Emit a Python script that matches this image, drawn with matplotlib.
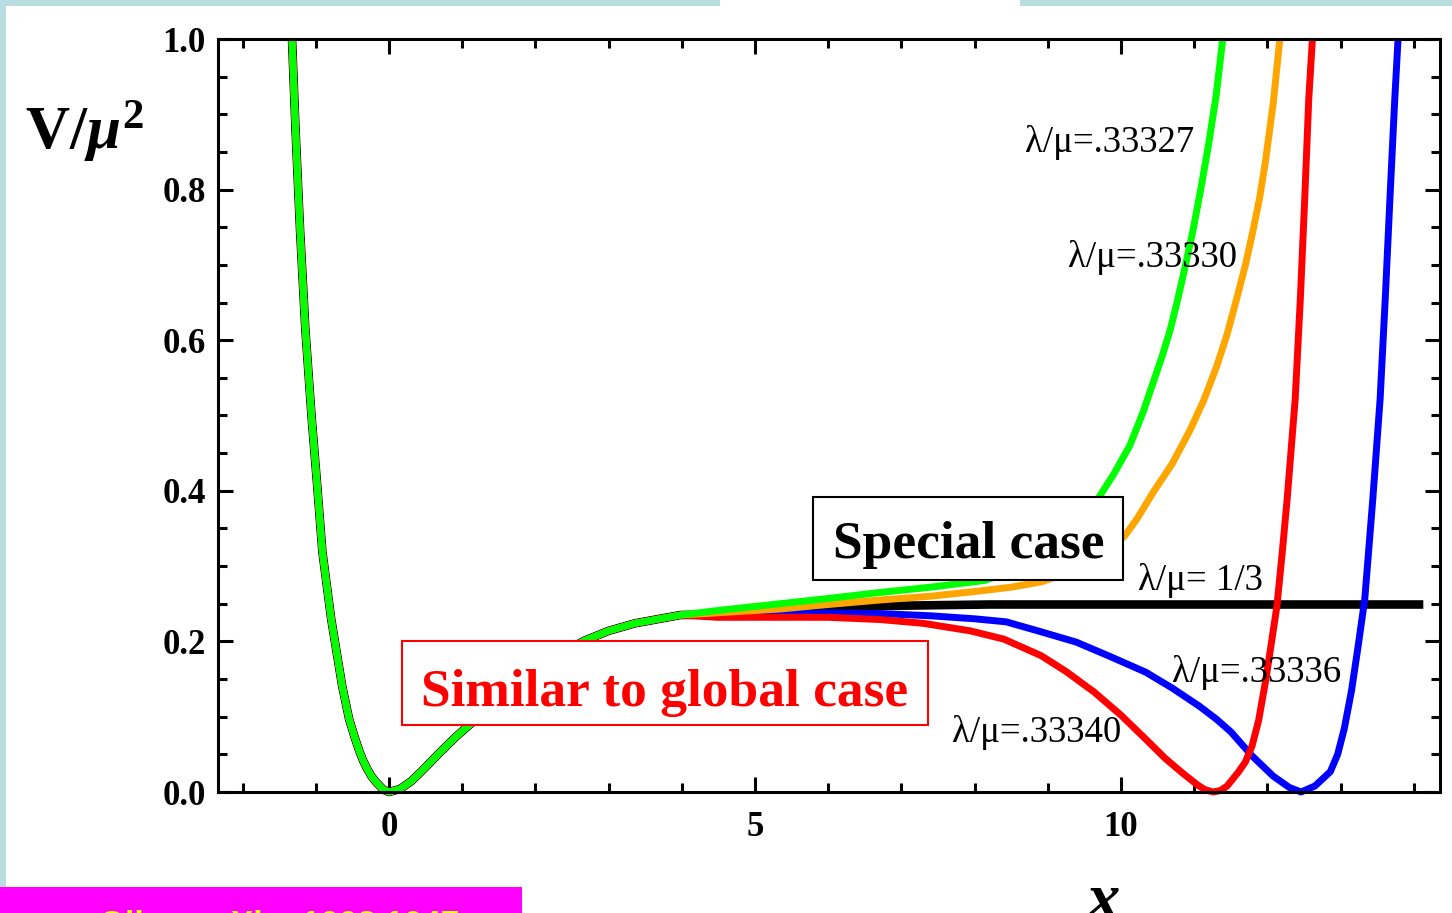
import matplotlib
matplotlib.use("Agg")
import matplotlib.pyplot as plt
from matplotlib.patches import Rectangle
from matplotlib.ticker import MultipleLocator, FixedLocator

plt.rcParams['font.family'] = ['Liberation Serif', 'DejaVu Serif']
plt.rcParams['mathtext.fontset'] = 'custom'
plt.rcParams['mathtext.rm'] = 'Liberation Serif:bold'
plt.rcParams['mathtext.bf'] = 'Liberation Serif:bold'
plt.rcParams['mathtext.it'] = 'Liberation Serif:italic:bold'

# Shared branch of V/mu^2 (all couplings coincide here)
x_common = [-1.325, -1.277, -1.216, -1.143, -1.055, -0.980, -0.910, -0.790,
            -0.640, -0.545, -0.470, -0.400, -0.350, -0.300, -0.240, -0.175, -0.075,
            0.0, 0.15, 0.30, 0.45, 0.67, 0.91, 1.19, 1.50, 1.80, 2.10, 2.40, 2.67,
            3.00, 3.36, 3.98]
v_common = [1.000, 0.880, 0.748, 0.615, 0.495, 0.406, 0.319, 0.230,
            0.141, 0.097, 0.073, 0.053, 0.041, 0.031, 0.021, 0.013, 0.003,
            0.000, 0.004, 0.014, 0.028, 0.050, 0.073, 0.097, 0.122, 0.146, 0.167, 0.186, 0.201,
            0.214, 0.224, 0.235]

# Large-x branches, one per lambda/mu
x_33327 = [4.49, 5.34, 6.00, 6.71, 7.40, 8.14, 8.60, 9.00, 9.40, 9.71, 9.90, 10.12,
           10.30, 10.44, 10.56, 10.67, 10.76, 10.85, 10.98, 11.10, 11.20, 11.30, 11.39]
v_33327 = [0.241, 0.250, 0.257, 0.265, 0.272, 0.281, 0.296, 0.319, 0.353, 0.393, 0.422, 0.460,
           0.504, 0.544, 0.578, 0.613, 0.648, 0.686, 0.744, 0.806, 0.862, 0.925, 1.000]

x_33330 = [4.49, 5.34, 6.00, 6.71, 7.40, 8.07, 8.50, 8.91, 9.20, 9.50, 9.80, 10.05,
           10.22, 10.44, 10.70, 10.94, 11.13, 11.31, 11.45, 11.58, 11.70, 11.80,
           11.89, 11.97, 12.08, 12.17]
v_33330 = [0.238, 0.243, 0.249, 0.255, 0.260, 0.267, 0.272, 0.279, 0.289, 0.303, 0.320, 0.340,
           0.363, 0.398, 0.436, 0.480, 0.520, 0.566, 0.608, 0.655, 0.700, 0.744,
           0.787, 0.835, 0.915, 1.000]

x_third = [4.49, 5.34, 6.00, 6.71, 7.40, 8.20, 9.00, 14.13]
v_third = [0.236, 0.241, 0.244, 0.247, 0.248, 0.249, 0.249, 0.249]

x_33336 = [4.49, 5.34, 6.00, 6.71, 7.40, 8.00, 8.43, 8.90, 9.39, 9.85, 10.34, 10.70,
           11.07, 11.30, 11.50, 11.79, 12.08, 12.30, 12.46, 12.65, 12.86, 12.96, 13.05,
           13.15, 13.24, 13.33, 13.44, 13.54, 13.61, 13.675, 13.74, 13.785]
v_33336 = [0.234, 0.236, 0.238, 0.237, 0.234, 0.230, 0.226, 0.213, 0.199, 0.180, 0.159, 0.138,
           0.114, 0.097, 0.080, 0.048, 0.021, 0.006, 0.000, 0.008, 0.027, 0.050, 0.084,
           0.135, 0.194, 0.256, 0.389, 0.522, 0.655, 0.790, 0.920, 1.000]

x_33340 = [4.49, 5.34, 6.00, 6.71, 7.30, 7.94, 8.40, 8.91, 9.25, 9.63, 10.00, 10.34,
           10.60, 10.83, 11.05, 11.15, 11.26, 11.36, 11.45, 11.60, 11.70, 11.79, 11.88,
           11.98, 12.05, 12.13, 12.20, 12.27, 12.38, 12.45, 12.51, 12.565, 12.615]
v_33340 = [0.232, 0.232, 0.232, 0.229, 0.224, 0.214, 0.203, 0.181, 0.160, 0.133, 0.102, 0.070,
           0.045, 0.026, 0.009, 0.003, 0.000, 0.002, 0.008, 0.026, 0.040, 0.061, 0.095,
           0.150, 0.195, 0.247, 0.315, 0.389, 0.522, 0.655, 0.788, 0.920, 1.000]

curve_labels = ["λ/μ=.33327", "λ/μ=.33330", "λ/μ= 1/3", "λ/μ=.33336", "λ/μ=.33340"]
label_x = [8.69, 9.28, 10.23, 10.70, 7.69]
label_y = [0.850, 0.697, 0.268, 0.146, 0.066]

x_ticks = [0, 5, 10]
y_ticks = [0.0, 0.2, 0.4, 0.6, 0.8, 1.0]

W, H = 1452, 913
fig = plt.figure(figsize=(W / 100, H / 100), dpi=100)
fig.patch.set_facecolor('white')

# page frame strips
frame_col = '#b9dee2'
fig.add_artist(Rectangle((0, 1 - 6 / H), 720 / W, 6 / H, transform=fig.transFigure,
                         color=frame_col, lw=0))
fig.add_artist(Rectangle((1020 / W, 1 - 6 / H), 432 / W, 6 / H, transform=fig.transFigure,
                         color=frame_col, lw=0))
fig.add_artist(Rectangle((0, 26 / H), 6 / W, 1 - 26 / H, transform=fig.transFigure,
                         color=frame_col, lw=0))
fig.add_artist(Rectangle((0, 0), 522 / W, 26 / H, transform=fig.transFigure,
                         color='#ff00ff', lw=0))
fig.text(62 / W, -21 / H, "a. Olive  arXiv: 1008.1047", color='#ffff00',
         fontsize=24, fontweight='bold', family='Liberation Sans', ha='left', va='baseline')

ax = fig.add_axes([218 / W, 1 - 792 / H, 1222 / W, 753 / H])
ax.set_xlim(-2.336, 14.358)
ax.set_ylim(0.0, 1.0)

series = [
    (x_third, v_third, 'black', 6.2, 2),
    (x_33336, v_33336, '#0000ff', 5.0, 3),
    (x_33340, v_33340, '#ff0000', 5.0, 4),
    (x_33330, v_33330, '#ffa500', 5.0, 5),
    (x_33327, v_33327, '#00ff00', 5.0, 6),
]
for xs, vs, col, lw, z in series:
    ax.plot(x_common + xs, v_common + vs, color=col, lw=lw, zorder=z,
            clip_on=False, solid_capstyle='butt', solid_joinstyle='round')

for s in ax.spines.values():
    s.set_linewidth(2.2)
    s.set_zorder(20)

ax.xaxis.set_major_locator(FixedLocator(x_ticks))
ax.xaxis.set_minor_locator(MultipleLocator(1))
ax.yaxis.set_major_locator(FixedLocator(y_ticks))
ax.yaxis.set_minor_locator(MultipleLocator(0.05))
ax.set_xticklabels([str(t) for t in x_ticks])
ax.set_yticklabels([f"{t:.1f}" for t in y_ticks])
ax.tick_params(which='both', direction='in', top=True, right=True, width=2.2, zorder=20)
ax.tick_params(which='major', length=11)
ax.tick_params(which='minor', length=6.5)
ax.tick_params(axis='x', which='major', pad=14, labelsize=25)
ax.tick_params(axis='y', which='major', pad=9, labelsize=25)
for lab in ax.get_xticklabels() + ax.get_yticklabels():
    lab.set_fontweight('bold')

# curve annotations
for txt, tx, ty in zip(curve_labels, label_x, label_y):
    ax.text(tx, ty, txt, fontsize=26.5, ha='left', va='baseline', color='black', zorder=12)

# framed captions
ax.add_patch(Rectangle((0.1506, 0.0890), 0.5810 - 0.1506, 0.2005 - 0.0890,
                       transform=ax.transAxes, facecolor='white', edgecolor='#ff0000',
                       lw=1.5, zorder=10))
ax.text(0.3658, 0.1142, "Similar to global case", transform=ax.transAxes, color='#ff0000',
        fontsize=38.5, fontweight='bold', ha='center', va='baseline', zorder=11)
ax.add_patch(Rectangle((0.4869, 0.2815), 0.7406 - 0.4869, 0.3918 - 0.2815,
                       transform=ax.transAxes, facecolor='white', edgecolor='black',
                       lw=1.5, zorder=10))
ax.text(0.6146, 0.3108, "Special case", transform=ax.transAxes, color='black',
        fontsize=38.5, fontweight='bold', ha='center', va='baseline', zorder=11)

# axis titles
fig.text(25 / W, 1 - 149 / H, r'$\mathbf{V}/\mu^{\mathbf{2}}$', fontsize=44,
         ha='left', va='baseline')
fig.text(1104 / W, -6 / H, 'x', fontsize=48, style='italic', fontweight='bold',
         ha='center', va='baseline')

fig.savefig('out.png', dpi=100)
